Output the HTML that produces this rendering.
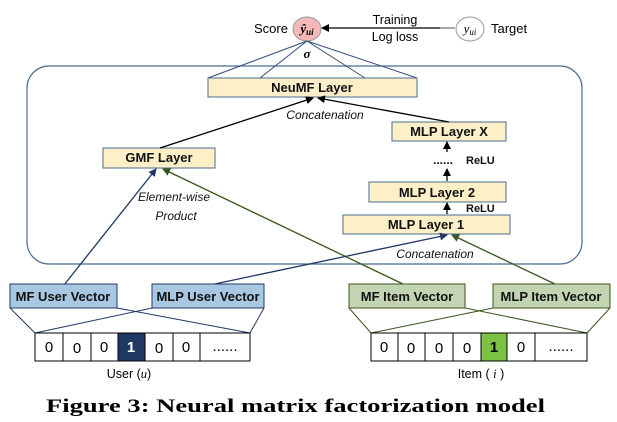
<!DOCTYPE html>
<html><head><meta charset="utf-8"><style>
body{margin:0;background:#fff;}
svg{display:block;font-family:"Liberation Sans",sans-serif;}
.b{font-weight:bold;font-size:12px;fill:#111;}
.v{font-weight:bold;font-size:13px;fill:#111;}
.i{font-style:italic;font-size:12px;fill:#111;}
</style></head><body>
<svg width="617" height="422" viewBox="0 0 617 422" xmlns="http://www.w3.org/2000/svg">
<defs>
<marker id="ak" markerWidth="8" markerHeight="8" refX="7" refY="4" orient="auto" markerUnits="userSpaceOnUse"><path d="M0,0 L8,4 L0,8 z" fill="#000"/></marker>
<marker id="ab" markerWidth="8" markerHeight="8" refX="7" refY="4" orient="auto" markerUnits="userSpaceOnUse"><path d="M0,0 L8,4 L0,8 z" fill="#1f3864"/></marker>
<marker id="ag" markerWidth="8" markerHeight="8" refX="7" refY="4" orient="auto" markerUnits="userSpaceOnUse"><path d="M0,0 L8,4 L0,8 z" fill="#38561d"/></marker>
</defs>
<rect x="27" y="66" width="555" height="198" rx="22" fill="none" stroke="#4a6b90" stroke-width="1.2"/>
<text x="254" y="33" style="font-size:13px">Score</text>
<ellipse cx="307" cy="29" rx="14" ry="12" fill="#f4b8b8" stroke="#999"/>
<text x="307" y="33" text-anchor="middle" style="font-family:'Liberation Serif',serif;font-style:italic;font-weight:bold;font-size:13px">ŷ<tspan font-size="9" dy="2">ui</tspan></text>
<line x1="455" y1="28" x2="322" y2="28" stroke="#000" stroke-width="1.3" marker-end="url(#ak)"/>
<line x1="440" y1="28" x2="455" y2="28" stroke="#999" stroke-width="1.3"/>
<text x="395" y="24" text-anchor="middle" style="font-size:12.5px">Training</text>
<text x="395" y="41" text-anchor="middle" style="font-size:12.5px">Log loss</text>
<ellipse cx="470" cy="29" rx="14" ry="12" fill="#fff" stroke="#999"/>
<text x="470" y="33" text-anchor="middle" style="font-family:'Liberation Serif',serif;font-style:italic;font-size:13px">y<tspan font-size="9" dy="2">ui</tspan></text>
<text x="491" y="33" style="font-size:13px">Target</text>
<text x="307" y="58" text-anchor="middle" style="font-family:'Liberation Serif',serif;font-style:italic;font-weight:bold;font-size:13px">σ</text>
<g stroke="#2f4f7a" stroke-width="1"><line x1="307" y1="41" x2="208" y2="78"/><line x1="307" y1="41" x2="260" y2="78"/><line x1="307" y1="41" x2="365" y2="78"/><line x1="307" y1="41" x2="417" y2="78"/></g>
<g fill="#fdf0c9" stroke="#4a6b90" stroke-width="1">
<rect x="208" y="78" width="209" height="19"/>
<rect x="103" y="148" width="112" height="20"/>
<rect x="392" y="122" width="114" height="19"/>
<rect x="369" y="182" width="137" height="20"/>
<rect x="343" y="215" width="167" height="19"/>
</g>
<text x="312" y="92" text-anchor="middle" class="v">NeuMF Layer</text>
<text x="159" y="162" text-anchor="middle" class="v">GMF Layer</text>
<text x="449" y="136" text-anchor="middle" class="v">MLP Layer X</text>
<text x="437" y="197" text-anchor="middle" class="v">MLP Layer 2</text>
<text x="426" y="229" text-anchor="middle" class="v">MLP Layer 1</text>
<text x="325" y="119" text-anchor="middle" class="i">Concatenation</text>
<line x1="160" y1="148" x2="313" y2="98" stroke="#000" stroke-width="1.3" marker-end="url(#ak)"/>
<line x1="449" y1="122" x2="318" y2="98" stroke="#000" stroke-width="1.3" marker-end="url(#ak)"/>
<line x1="447" y1="152" x2="447" y2="142" stroke="#000" stroke-width="1.3" marker-end="url(#ak)"/>
<text x="433" y="164" class="b">......</text>
<text x="466" y="164" class="b" style="font-size:11px">ReLU</text>
<line x1="447" y1="181" x2="447" y2="169" stroke="#000" stroke-width="1.3" marker-end="url(#ak)"/>
<line x1="447" y1="214" x2="447" y2="203" stroke="#000" stroke-width="1.3" marker-end="url(#ak)"/>
<text x="466" y="212" class="b" style="font-size:11px">ReLU</text>
<text x="174" y="201" text-anchor="middle" class="i">Element-wise</text>
<text x="176" y="220" text-anchor="middle" class="i">Product</text>
<text x="435" y="258" text-anchor="middle" class="i">Concatenation</text>
<line x1="64" y1="285" x2="156" y2="169" stroke="#1f3864" stroke-width="1.3" marker-end="url(#ab)"/>
<line x1="405" y1="285" x2="163" y2="169" stroke="#38561d" stroke-width="1.3" marker-end="url(#ag)"/>
<line x1="210" y1="285" x2="447" y2="235" stroke="#1f3864" stroke-width="1.3" marker-end="url(#ab)"/>
<line x1="557" y1="285" x2="452" y2="235" stroke="#38561d" stroke-width="1.3" marker-end="url(#ag)"/>
<g stroke-width="1">
<rect x="10" y="284" width="107" height="24" fill="#a8c7e2" stroke="#1f3864"/>
<rect x="152" y="284" width="112" height="24" fill="#a8c7e2" stroke="#1f3864"/>
<rect x="349" y="284" width="116" height="24" fill="#c3d4b3" stroke="#38561d"/>
<rect x="493" y="284" width="117" height="24" fill="#c3d4b3" stroke="#38561d"/>
</g>
<text x="63" y="301" text-anchor="middle" class="v">MF User Vector</text>
<text x="208" y="301" text-anchor="middle" class="v">MLP User Vector</text>
<text x="407" y="301" text-anchor="middle" class="v">MF Item Vector</text>
<text x="551" y="301" text-anchor="middle" class="v">MLP Item Vector</text>
<g stroke-width="1" fill="none">
<g stroke="#1f3864"><line x1="10" y1="308" x2="35" y2="333"/><line x1="117" y1="308" x2="250" y2="333"/><line x1="152" y1="308" x2="35" y2="333"/><line x1="264" y1="308" x2="250" y2="333"/></g>
<g stroke="#38561d"><line x1="349" y1="308" x2="371" y2="333"/><line x1="465" y1="308" x2="587" y2="333"/><line x1="493" y1="308" x2="371" y2="333"/><line x1="610" y1="308" x2="587" y2="333"/></g>
</g>
<g stroke="#000" stroke-width="1" fill="#fff">
<rect x="35" y="333" width="28" height="28"/><rect x="63" y="333" width="28" height="28"/><rect x="91" y="333" width="27" height="28"/>
<rect x="118" y="333" width="27" height="28" fill="#1f3864"/><rect x="145" y="333" width="28" height="28"/><rect x="173" y="333" width="27" height="28"/><rect x="200" y="333" width="50" height="28"/>
<rect x="371" y="333" width="27" height="28"/><rect x="398" y="333" width="27" height="28"/><rect x="425" y="333" width="28" height="28"/><rect x="453" y="333" width="28" height="28"/>
<rect x="481" y="333" width="26" height="28" fill="#7cc242"/><rect x="507" y="333" width="28" height="28"/><rect x="535" y="333" width="52" height="28"/>
</g>
<g style="font-size:15px" text-anchor="middle">
<text x="49" y="352">0</text><text x="77" y="353">0</text><text x="104" y="352">0</text><text x="131" y="352" fill="#fff" font-weight="bold">1</text><text x="159" y="353">0</text><text x="186" y="352">0</text><text x="225" y="351">......</text>
<text x="384" y="352">0</text><text x="411" y="353">0</text><text x="439" y="353">0</text><text x="467" y="353">0</text><text x="494" y="352" font-weight="bold">1</text><text x="521" y="352">0</text><text x="561" y="351">......</text>
</g>
<text x="129" y="378" text-anchor="middle" style="font-size:12.5px">User (<tspan font-style="italic" font-family="Liberation Serif">u</tspan>)</text>
<text x="481" y="378" text-anchor="middle" style="font-size:12.5px">Item ( <tspan font-style="italic" font-family="Liberation Serif">i</tspan> )</text>
<text x="46" y="412" textLength="499" lengthAdjust="spacingAndGlyphs" style="font-family:'Liberation Serif',serif;font-weight:bold;font-size:19px">Figure 3: Neural matrix factorization model</text>
</svg>
</body></html>
